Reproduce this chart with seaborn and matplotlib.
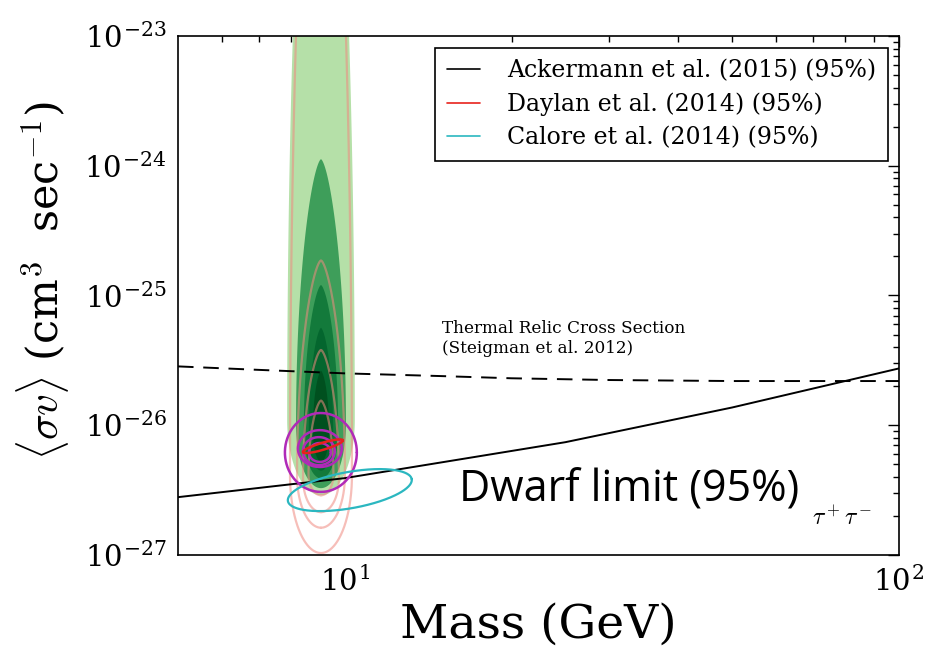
import numpy as np
import pandas as pd
import matplotlib
matplotlib.use("Agg")
import matplotlib.pyplot as plt
import seaborn as sns
from matplotlib.ticker import FixedLocator, FuncFormatter, NullFormatter
from matplotlib.lines import Line2D

# ---------------- data ----------------
# Dwarf limit, Ackermann et al. (2015), tau+tau-
dwarf_mass = [5, 10, 25, 50, 100]
dwarf_sv = [2.79e-27, 3.91e-27, 7.4e-27, 1.37e-26, 2.74e-26]

# Thermal relic cross section (Steigman et al. 2012)
relic_mass = [5, 7, 10, 15, 20, 30, 50, 70, 100]
relic_sv = [2.84e-26, 2.67e-26, 2.51e-26, 2.39e-26, 2.30e-26, 2.23e-26, 2.19e-26, 2.19e-26, 2.19e-26]

# Axis ticks
x_major = [10, 100]
y_major = [1e-27, 1e-26, 1e-25, 1e-24, 1e-23]

# Green filled credible regions: log10 mass centre, half width (dex),
# log10 <sv> at tip, at widest point, at bottom
green_colors = ["#b5e0a8", "#3e9e5a", "#137a3b", "#04662e", "#00501f"]
green_cx = [0.957, 0.957, 0.957, 0.957, 0.957]
green_hw = [0.061, 0.045, 0.031, 0.022, 0.0145]
green_top = [-20.0, -23.95, -24.92, -25.25, -25.58]
green_mid = [-25.96, -26.00, -26.04, -26.05, -26.04]
green_bot = [-26.54, -26.485, -26.41, -26.35, -26.28]

# Pink contour lines
pink_cx = [0.957, 0.957, 0.957, 0.957]
pink_hw = [0.0559, 0.0432, 0.0324, 0.0225]
pink_top = [-20.0, -24.73, -25.42, -25.81]
pink_mid = [-26.385, -26.385, -26.41, -26.38]
pink_bot = [-26.985, -26.79, -26.67, -26.54]

# Magenta contours (axis aligned ellipses in log space)
mag_cx = [0.9568, 0.9550, 0.9532, 0.9550]
mag_cy = [-26.21, -26.18, -26.20, -26.21]
mag_hx = [0.0649, 0.0396, 0.0288, 0.0198]
mag_hy = [0.304, 0.142, 0.108, 0.073]

# Daylan et al. (2014) 95% region: centre, major and minor half vectors (dex)
red_c = (0.9604, -26.162)
red_a = (0.036, 0.046)
red_b = (0.0018, -0.0258)

# Calore et al. (2014) 95% region
cyan_c = (1.009, -26.50)
cyan_a = (0.1117, 0.0846)
cyan_b = (0.0054, -0.138)

legend_labels = ["Ackermann et al. (2015) (95%)",
                 "Daylan et al. (2014) (95%)",
                 "Calore et al. (2014) (95%)"]


def teardrop(cx, hw, top, mid, bot, n=400):
    t = np.linspace(0, np.pi, n)
    u = -np.cos(t)  # -1 bottom ... 1 top
    y = np.where(u < 0, mid + u * (mid - bot), mid + u * (top - mid))
    w = np.where(u < 0, np.sqrt(np.clip(1 - u ** 2, 0, 1)),
                 np.clip(1 - u ** 2, 0, 1) ** 0.65) * hw
    xs = np.concatenate([cx - w, (cx + w)[::-1]])
    ys = np.concatenate([y, y[::-1]])
    return 10 ** xs, 10 ** ys


def ellipse(c, a, b, n=300):
    t = np.linspace(0, 2 * np.pi, n)
    x = c[0] + a[0] * np.cos(t) + b[0] * np.sin(t)
    y = c[1] + a[1] * np.cos(t) + b[1] * np.sin(t)
    return 10 ** x, 10 ** y


sns.set_style("white")
plt.rcParams["font.family"] = ["DejaVu Serif"]
plt.rcParams["mathtext.fontset"] = "cm"
plt.rcParams["text.color"] = "black"
plt.rcParams["axes.labelcolor"] = "black"

fig = plt.figure(figsize=(9.27, 6.56), dpi=100)
ax = fig.add_axes([0.1920, 0.1540, 0.7778, 0.7912])
ax.set_xscale("log")
ax.set_yscale("log")

# green filled regions
for c, cx, hw, tp, md, bt in zip(green_colors, green_cx, green_hw, green_top, green_mid, green_bot):
    xs, ys = teardrop(cx, hw, tp, md, bt)
    ax.fill(xs, ys, color=c, lw=0, zorder=1)

# pink lines
for cx, hw, tp, md, bt in zip(pink_cx, pink_hw, pink_top, pink_mid, pink_bot):
    xs, ys = teardrop(cx, hw, tp, md, bt)
    ax.plot(xs, ys, color="#f08a80", alpha=0.55, lw=1.6, zorder=2)

# thermal relic and dwarf limit
relic_df = pd.DataFrame({"mass": relic_mass, "sv": relic_sv})
dwarf_df = pd.DataFrame({"mass": dwarf_mass, "sv": dwarf_sv})
sns.lineplot(data=relic_df, x="mass", y="sv", ax=ax, color="black", lw=1.4,
             estimator=None, zorder=3)
ax.lines[-1].set_dashes([8, 5])
sns.lineplot(data=dwarf_df, x="mass", y="sv", ax=ax, color="black", lw=1.4,
             estimator=None, zorder=3)

# magenta
for cx, cy, hx, hy in zip(mag_cx, mag_cy, mag_hx, mag_hy):
    xs, ys = ellipse((cx, cy), (hx, 0), (0, hy))
    ax.plot(xs, ys, color="#b02ab8", lw=1.8, zorder=4)

xs, ys = ellipse(red_c, red_a, red_b)
ax.plot(xs, ys, color="#e8221c", lw=1.8, zorder=5)
xs, ys = ellipse(cyan_c, cyan_a, cyan_b)
ax.plot(xs, ys, color="#2bb7c0", lw=1.6, zorder=5)

ax.set_xlim(5, 100)
ax.set_ylim(1e-27, 1e-23)

fmt = FuncFormatter(lambda v, p: "10$^{\\mathregular{%d}}$" % int(round(np.log10(v))))
x_minor = [m * d for d in (1, 10) for m in range(5, 10) if 5 < m * d < 100] + \
          [m * 10 for m in range(2, 10)]
x_minor = sorted(set(v for v in x_minor if v not in x_major))
y_minor = [m * 10.0 ** e for e in range(-27, -23) for m in range(2, 10)]
ax.xaxis.set_major_locator(FixedLocator(x_major))
ax.yaxis.set_major_locator(FixedLocator(y_major))
ax.xaxis.set_minor_locator(FixedLocator(x_minor))
ax.yaxis.set_minor_locator(FixedLocator(y_minor))
for axis in (ax.xaxis, ax.yaxis):
    axis.set_major_formatter(fmt)
    axis.set_minor_formatter(NullFormatter())

ax.tick_params(which="both", direction="in", top=True, right=True, colors="black")
ax.tick_params(which="major", length=8, width=1, labelsize=21, pad=8)
ax.tick_params(which="minor", length=4, width=1)
for s in ax.spines.values():
    s.set_color("black")
    s.set_linewidth(1.2)

ax.set_xlabel("Mass (GeV)", fontsize=34, labelpad=4, color="black")
ax.set_ylabel(r"$\langle\sigma v\rangle$ (cm$^3$  sec$^{-1}$)", fontsize=31,
              color="black")
ax.yaxis.set_label_coords(-0.148, 0.528)

ax.text(0.366, 0.381, "Thermal Relic Cross Section\n(Steigman et al. 2012)",
        transform=ax.transAxes, fontsize=12.2, va="bottom", ha="left", linespacing=1.25)
ax.text(0.39, 0.125, "Dwarf limit (95%)", transform=ax.transAxes,
        fontsize=31, family=["Open Sans", "DejaVu Sans"], va="center", ha="left",
        color="black")
ax.text(0.88, 0.071, r"$\tau^+\tau^-$", transform=ax.transAxes, fontsize=17,
        va="center", ha="left")

handles = [Line2D([], [], color="black", lw=1.2),
           Line2D([], [], color="#e8221c", lw=1.2),
           Line2D([], [], color="#2bb7c0", lw=1.2)]
leg = ax.legend(handles, legend_labels, loc="upper right",
                bbox_to_anchor=(0.9847, 0.977), borderaxespad=0, fontsize=17,
                frameon=True, fancybox=False, handlelength=1.4, labelspacing=0.42,
                borderpad=0.5, handletextpad=1.14)
leg.get_frame().set_edgecolor("black")
leg.get_frame().set_linewidth(1.2)
leg.get_frame().set_alpha(1)
for t in leg.get_texts():
    t.set_color("black")

fig.savefig("out.png", dpi=100, facecolor="white")
